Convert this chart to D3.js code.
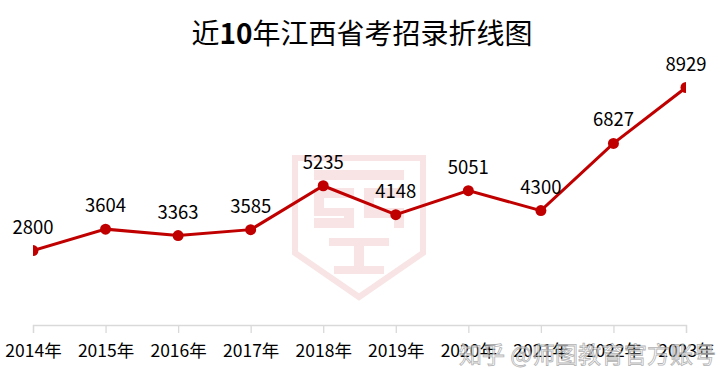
<!DOCTYPE html>
<html>
<head>
<meta charset="utf-8">
<script src="https://cdn.jsdelivr.net/npm/d3@7"></script>
<style>
body { margin: 0; background: #fff; }
</style>
</head>
<body>
<div id="chart"></div>
<script>
var years = ["2014年", "2015年", "2016年", "2017年", "2018年", "2019年", "2020年", "2021年", "2022年", "2023年"];
var recruits = [2800, 3604, 3363, 3585, 5235, 4148, 5051, 4300, 6827, 8929];

var W = 720, H = 386;
var margin = {top: 59, right: 34, bottom: 61, left: 33};
var width = W - margin.left - margin.right;
var height = H - margin.top - margin.bottom;

var svg = d3.select("#chart").append("svg")
  .attr("width", W)
  .attr("height", H);

// faint logo in the background
var logo = svg.append("g").attr("transform", "translate(359,158)").style("opacity", 0.1);
logo.append("path")
  .attr("d", "M-64,0 L64,0 L64,95 L0,139 L-64,95 Z")
  .attr("fill", "none").attr("stroke", "#c00000").attr("stroke-width", 6);
logo.append("path")
  .attr("d", "M-45,12 L45,12 L45,22 L-45,22 Z M-45,30 L-5,30 L-5,40 L-35,40 L-35,50 L-5,50 L-5,70 L-45,70 L-45,60 L-15,60 L-15,58 L-45,58 Z M5,30 L45,30 L45,40 L15,40 L15,50 L45,50 L45,70 L35,70 L35,60 L5,60 Z M-30,80 L30,80 L30,88 L5,88 L5,108 L25,108 L25,116 L-25,116 L-25,108 L-5,108 L-5,88 L-30,88 Z")
  .attr("fill", "#c00000");

var g = svg.append("g")
  .attr("transform", "translate(" + margin.left + "," + margin.top + ")");

var x = d3.scalePoint()
  .domain(years)
  .range([0, width]);

var y = d3.scaleLinear()
  .domain([0, 10000])
  .range([height, 0]);

// x axis
var xAxis = g.append("g")
  .attr("transform", "translate(0," + height + ")")
  .call(d3.axisBottom(x).tickSize(8).tickPadding(12));
xAxis.select(".domain").attr("stroke", "#d9d9d9").attr("stroke-width", 1.3);
xAxis.selectAll(".tick line").attr("stroke", "#d9d9d9").attr("stroke-width", 1.3);
xAxis.selectAll(".tick text")
  .attr("fill", "#000")
  .style("font-family", "'Noto Sans CJK SC', sans-serif")
  .style("font-size", "17.5px");

g.append("clipPath").attr("id", "plot")
  .append("rect").attr("x", 0).attr("y", -margin.top).attr("width", width).attr("height", height + margin.top);

var line = d3.line()
  .x(function(d, i) { return x(years[i]); })
  .y(function(d) { return y(d); });

var plot = g.append("g").attr("clip-path", "url(#plot)");
plot.append("path")
  .datum(recruits)
  .attr("fill", "none")
  .attr("stroke", "#c00000")
  .attr("stroke-width", 3)
  .attr("d", line);

plot.selectAll("circle")
  .data(recruits)
  .enter()
  .append("circle")
  .attr("cx", function(d, i) { return x(years[i]); })
  .attr("cy", function(d) { return y(d); })
  .attr("r", 5.5)
  .attr("fill", "#c00000");

g.selectAll(".lbl")
  .data(recruits)
  .enter()
  .append("text")
  .attr("class", "lbl")
  .attr("x", function(d, i) { return x(years[i]); })
  .attr("y", function(d) { return y(d) - 17; })
  .attr("text-anchor", "middle")
  .style("font-family", "'Noto Sans CJK SC', sans-serif")
  .style("font-size", "18.5px")
  .attr("fill", "#000")
  .text(function(d) { return d; });

// title
var title = svg.append("text")
  .attr("x", 362)
  .attr("y", 44)
  .attr("text-anchor", "middle")
  .style("font-family", "'Noto Sans CJK SC', sans-serif")
  .style("font-size", "28px")
  .attr("fill", "#000");
title.append("tspan").text("近");
title.append("tspan").style("font-weight", "bold").text("10");
title.append("tspan").text("年江西省考招录折线图");

// watermark
svg.append("text")
  .attr("x", 716)
  .attr("y", 363)
  .attr("text-anchor", "end")
  .style("font-family", "'Noto Sans CJK SC', sans-serif")
  .style("font-size", "23px")
  .attr("fill", "#fff")
  .attr("stroke", "#999")
  .attr("stroke-width", 0.8)
  .style("opacity", 0.75)
  .text("知乎 @师图教育官方账号");
</script>
</body>
</html>
